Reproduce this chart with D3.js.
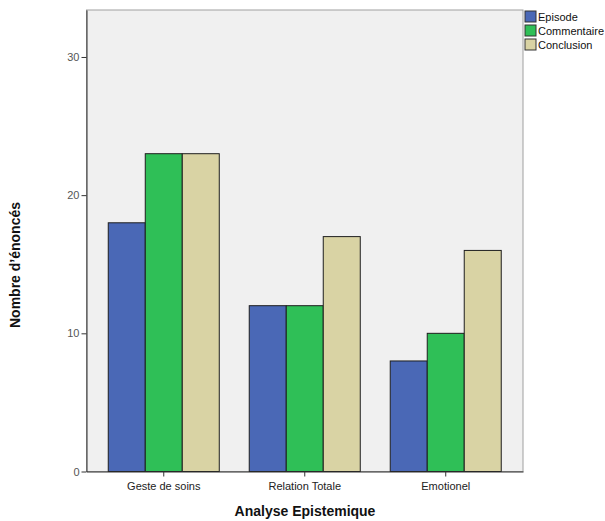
<!DOCTYPE html>
<html>
<head>
<meta charset="utf-8">
<script src="https://cdn.jsdelivr.net/npm/d3@7"></script>
<style>
  body { margin: 0; background: #fff; }
  text { font-family: Arial, "Liberation Sans", sans-serif; }
</style>
</head>
<body>
<div id="chart"></div>
<script>
// categories and series
const categories = ["Geste de soins", "Relation Totale", "Emotionel"];
const seriesNames = ["Episode", "Commentaire", "Conclusion"];
const episode = [18, 12, 8];
const commentaire = [23, 12, 10];
const conclusion = [23, 17, 16];
const yTicks = [0, 10, 20, 30];

const colors = {"Episode": "#4a68b6", "Commentaire": "#2fbf57", "Conclusion": "#d9d3a4"};

function init(){
    const width = 605, height = 521;
    const left = 86.5, right = 523, top = 10, bottom = 471.5;

    const svg = d3.select("#chart").append("svg")
        .attr("width", width)
        .attr("height", height);

    const table = categories.map((c, i) => ({
        cat: c,
        vals: [episode[i], commentaire[i], conclusion[i]]
    }));

    const x = d3.scaleBand()
        .domain(categories)
        .range([left, right])
        .paddingInner(0)
        .paddingOuter(0.048);

    const inner = d3.scaleBand()
        .domain(seriesNames)
        .range([0, x.bandwidth()])
        .paddingOuter(0.405)
        .paddingInner(0);

    const y = d3.scaleLinear()
        .domain([0, 33.4])
        .range([bottom, top]);

    // plot background
    svg.append("rect")
        .attr("x", left)
        .attr("y", top)
        .attr("width", right - left)
        .attr("height", bottom - top)
        .attr("fill", "#f0f0f0")
        .attr("stroke", "#a0a0a0")
        .attr("stroke-width", 1);

    // bars
    const groups = svg.selectAll()
        .data(table)
        .enter()
        .append("g")
        .attr("transform", d => "translate(" + x(d.cat) + ",0)");

    groups.selectAll()
        .data(d => d.vals.map((v, j) => ({name: seriesNames[j], value: v})))
        .enter()
        .append("rect")
        .attr("x", d => inner(d.name))
        .attr("y", d => y(d.value))
        .attr("width", inner.bandwidth())
        .attr("height", d => bottom - y(d.value))
        .attr("fill", d => colors[d.name])
        .attr("stroke", "#1e1e1e")
        .attr("stroke-width", 1);

    // axes
    const yAxis = svg.append("g")
        .attr("transform", "translate(" + left + ",0)")
        .call(d3.axisLeft(y).tickValues(yTicks).tickSize(5).tickPadding(2).tickSizeOuter(0));
    yAxis.select(".domain").attr("stroke", "#333");
    yAxis.selectAll(".tick line").attr("stroke", "#333");
    yAxis.selectAll("text").attr("font-size", 11).attr("fill", "#555")
        .attr("font-family", "Arial, 'Liberation Sans', sans-serif");

    const xAxis = svg.append("g")
        .attr("transform", "translate(0," + bottom + ")")
        .call(d3.axisBottom(x).tickSize(5).tickPadding(6).tickSizeOuter(0));
    xAxis.select(".domain").attr("stroke", "#333");
    xAxis.selectAll(".tick line").attr("stroke", "#333");
    xAxis.selectAll("text").attr("font-size", 11).attr("fill", "#222")
        .attr("font-family", "Arial, 'Liberation Sans', sans-serif");

    // axis titles
    svg.append("text")
        .attr("x", 305)
        .attr("y", 516)
        .attr("text-anchor", "middle")
        .attr("font-size", 14)
        .attr("font-weight", "bold")
        .attr("fill", "#111")
        .text("Analyse Epistemique");

    svg.append("text")
        .attr("transform", "translate(20,265) rotate(-90)")
        .attr("text-anchor", "middle")
        .attr("font-size", 14)
        .attr("font-weight", "bold")
        .attr("fill", "#111")
        .text("Nombre d\u2019énoncés");

    // legend
    const legend = svg.selectAll()
        .data(seriesNames)
        .enter()
        .append("g")
        .attr("transform", (d, i) => "translate(525," + (11 + i * 14) + ")");
    legend.append("rect")
        .attr("width", 11)
        .attr("height", 11)
        .attr("fill", d => colors[d])
        .attr("stroke", "#333");
    legend.append("text")
        .attr("x", 13)
        .attr("y", 10)
        .attr("font-size", 11)
        .attr("fill", "#111")
        .text(d => d);
}

init();
</script>
</body>
</html>
